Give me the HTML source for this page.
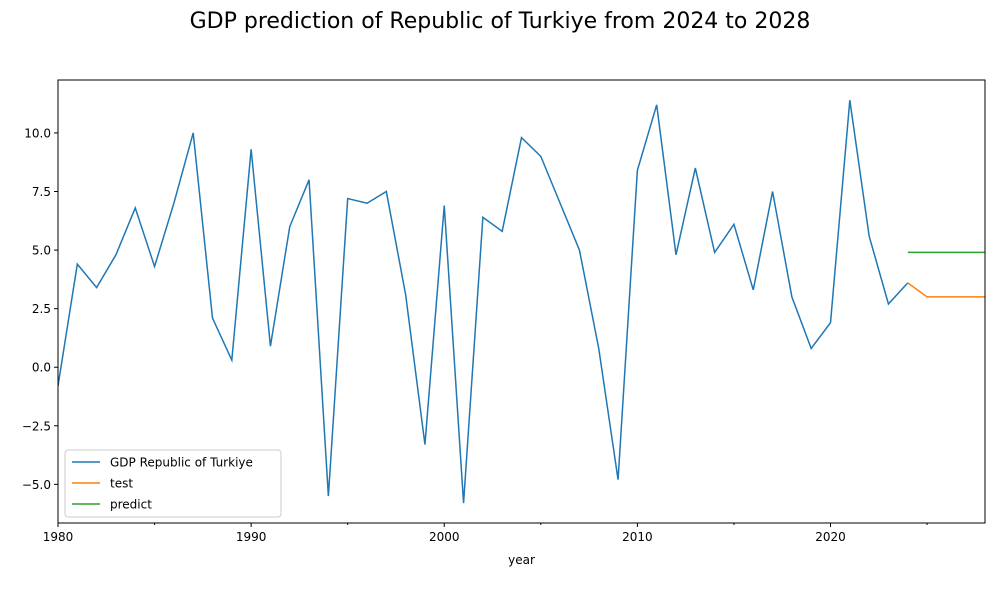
<!DOCTYPE html>
<html><head><meta charset="utf-8"><style>
body{margin:0;background:#fff;font-family:"DejaVu Sans","Liberation Sans",sans-serif}
svg text{font-family:"DejaVu Sans","Liberation Sans",sans-serif}
</style></head><body>
<svg id="chart" width="1000" height="600" xmlns="http://www.w3.org/2000/svg">
<rect width="1000" height="600" fill="#fff"/>
<text x="500" y="28" text-anchor="middle" font-size="22" fill="#000">GDP prediction of Republic of Turkiye from 2024 to 2028</text>
<g id="plot"></g>
</svg>
<script>
const years = [1980,1981,1982,1983,1984,1985,1986,1987,1988,1989,1990,1991,1992,1993,1994,1995,1996,1997,1998,1999,2000,2001,2002,2003,2004,2005,2006,2007,2008,2009,2010,2011,2012,2013,2014,2015,2016,2017,2018,2019,2020,2021,2022,2023,2024];
const gdp = [-0.8,4.4,3.4,4.8,6.8,4.3,7.0,10.0,2.1,0.3,9.3,0.9,6.0,8.0,-5.5,7.2,7.0,7.5,3.1,-3.3,6.9,-5.8,6.4,5.8,9.8,9.0,7.0,5.0,0.8,-4.8,8.4,11.2,4.8,8.5,4.9,6.1,3.3,7.5,3.0,0.8,1.9,11.4,5.6,2.7,3.6];
const testYears = [2024,2025,2026,2027,2028];
const testVals = [3.6,3.0,3.0,3.0,3.0];
const predYears = [2024,2025,2026,2027,2028];
const predVals = [4.9,4.9,4.9,4.9,4.9];
const xTicks = [1980,1990,2000,2010,2020];
const xMinor = [1985,1995,2005,2015,2025];
const yTicks = [-5.0,-2.5,0.0,2.5,5.0,7.5,10.0];

const L=58,R=985,T=80,B=523;
const xMin=1980,xMax=2028,yMin=-6.65,yMax=12.26;
const sx=v=>L+(v-xMin)/(xMax-xMin)*(R-L);
const sy=v=>B-(v-yMin)/(yMax-yMin)*(B-T);
const NS="http://www.w3.org/2000/svg";
const g=document.getElementById('plot');
function mk(tag,attrs,parent){const e=document.createElementNS(NS,tag);for(const k in attrs)e.setAttribute(k,attrs[k]);(parent||g).appendChild(e);return e;}

function line(xs,ys,color,name){
  const p=mk('polyline',{points:xs.map((x,i)=>sx(x)+','+sy(ys[i])).join(' '),fill:'none',stroke:color,'stroke-width':1.5,'clip-path':'url(#clip)'});
  
  
}
const defs=mk('defs',{});const cp=mk('clipPath',{id:'clip'},defs);mk('rect',{x:L,y:T,width:R-L,height:B-T},cp);

line(years,gdp,'#1f77b4','gdp-series-line');
line(predYears,predVals,'#2ca02c','predict-series-line');
line(testYears,testVals,'#ff7f0e','test-series-line');

const frame=mk('rect',{x:L,y:T,width:R-L,height:B-T,fill:'none',stroke:'#000','stroke-width':1});



xTicks.forEach(v=>{
  mk('line',{x1:sx(v),x2:sx(v),y1:B,y2:B+4,stroke:'#000'});
  const t=mk('text',{x:sx(v),y:B+18,'text-anchor':'middle','font-size':12,fill:'#000'});t.textContent=v;
  
  
});
xMinor.forEach(v=>{mk('line',{x1:sx(v),x2:sx(v),y1:B,y2:B+2,stroke:'#000'});});
yTicks.forEach(v=>{
  mk('line',{x1:L-4,x2:L,y1:sy(v),y2:sy(v),stroke:'#000'});
  const t=mk('text',{x:L-7,y:sy(v)+4.5,'text-anchor':'end','font-size':12,fill:'#000'});t.textContent=v.toFixed(1).replace('-','\u2212');
  
  
});
const xt=mk('text',{x:(L+R)/2,y:564,'text-anchor':'middle','font-size':12,fill:'#000'});xt.textContent='year';



const lg=mk('g',{});


mk('rect',{x:65,y:450,width:216,height:67,rx:3,fill:'#fff','fill-opacity':0.8,stroke:'#ccc'},lg);
[['GDP Republic of Turkiye','#1f77b4'],['test','#ff7f0e'],['predict','#2ca02c']].forEach((e,i)=>{
  const y=462+i*21;
  mk('line',{x1:72,x2:100,y1:y,y2:y,stroke:e[1],'stroke-width':1.5},lg);
  const t=mk('text',{x:110,y:y+4.5,'font-size':12,fill:'#000'},lg);t.textContent=e[0];
  
  
});
</script>
</body></html>
